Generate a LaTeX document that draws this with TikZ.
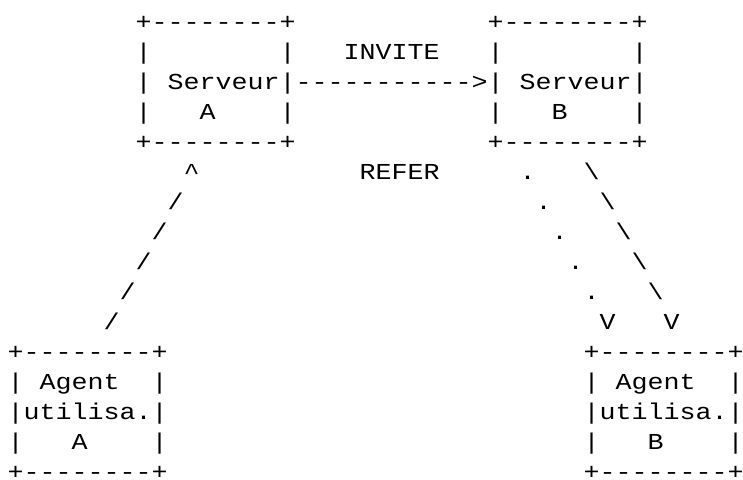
\documentclass[tikz,border=0pt]{standalone}
\usepackage{fontspec}
\setmonofont{Liberation Mono}[FakeStretch=1.1696]
\tikzset{
  ascii/.style={font=\ttfamily\fontsize{22.8}{30}\selectfont, inner sep=0pt, anchor=base west, align=left},
}
\begin{document}
\begin{tikzpicture}[x=16pt, y=-30pt]
\useasboundingbox (0pt,0pt) rectangle (743pt,-479pt);
\begin{scope}[shift={(7.5pt,-29pt)}]
    % serveurs (base = last line of the box)
    \node[ascii] (srvA) at (8,4) {+--------+\\|~~~~~~~~|\\|~Serveur|\\|~~~A~~~~|\\+--------+};
    \node[ascii] (srvB) at (30,4) {+--------+\\|~~~~~~~~|\\|~Serveur|\\|~~~B~~~~|\\+--------+};
    \node[ascii] (invite) at (21,1) {INVITE};
    \node[ascii] (arrow) at (18,2) {----------->};
    \node[ascii] (refer) at (22,5) {REFER};
    % agents
    \node[ascii] (uaA) at (0,15) {+--------+\\|~Agent~~|\\|utilisa.|\\|~~~A~~~~|\\+--------+};
    \node[ascii] (uaB) at (36,15) {+--------+\\|~Agent~~|\\|utilisa.|\\|~~~B~~~~|\\+--------+};
    % liens
    \node[ascii] (tipA) at (11,5) {\textasciicircum};
    \foreach \i in {0,...,4}
        \node[ascii] (up\i) at ({10-\i},{6+\i}) {/};
    \foreach \i in {0,...,4}
        \node[ascii] (dot\i) at ({32+\i},{5+\i}) {.};
    \node[ascii] (tipDot) at (37,10) {V};
    \foreach \i in {0,...,4}
        \node[ascii] (bs\i) at ({36+\i},{5+\i}) {\textbackslash};
    \node[ascii] (tipBs) at (41,10) {V};
\end{scope}
\end{tikzpicture}
\end{document}
